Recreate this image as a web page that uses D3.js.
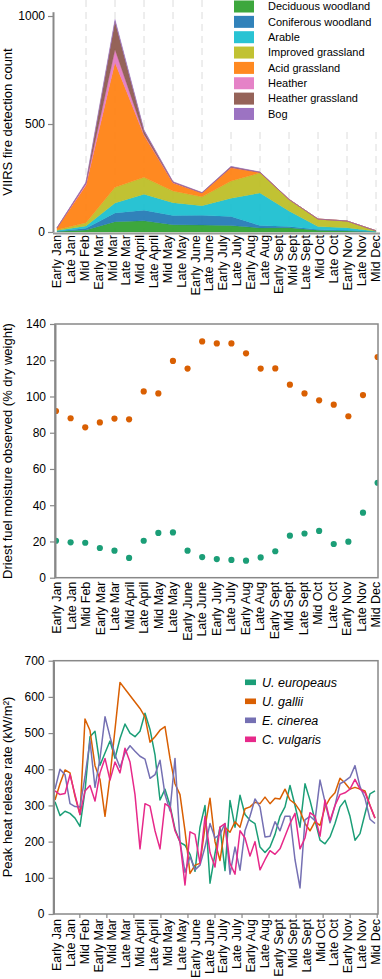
<!DOCTYPE html>
<html>
<head>
<meta charset="utf-8">
<script src="https://cdn.jsdelivr.net/npm/d3@7"></script>
<style>
  body { margin: 0; background: #fff; }
  svg { font-family: "Liberation Sans", Arial, Helvetica, sans-serif; }
</style>
</head>
<body>
<svg id="chart" width="382" height="979"></svg>
<script>
// ---- data ----
const labels24 = ['Early Jan', 'Late Jan', 'Mid Feb', 'Early Mar', 'Mid Mar', 'Late Mar', 'Mid April', 'Late April',
  'Mid May', 'Late May', 'Early June', 'Late June', 'Early July', 'Late July', 'Early Aug', 'Late Aug',
  'Early Sept', 'Mid Sept', 'Late Sept', 'Mid Oct', 'Late Oct', 'Early Nov', 'Late Nov', 'Mid Dec'];
const labels23 = ['Early Jan', 'Late Jan', 'Mid Feb', 'Early Mar', 'Late Mar', 'Mid April', 'Late April',
  'Mid May', 'Late May', 'Early June', 'Late June', 'Early July', 'Late July', 'Early Aug', 'Late Aug',
  'Early Sept', 'Mid Sept', 'Late Sept', 'Mid Oct', 'Late Oct', 'Early Nov', 'Late Nov', 'Mid Dec'];

// VIIRS fire detections, one value per month
const months = ['Jan', 'Feb', 'Mar', 'Apr', 'May', 'Jun', 'Jul', 'Aug', 'Sep', 'Oct', 'Nov', 'Dec'];
const deciduousWoodland = [2, 9, 48, 52, 34, 32, 30, 19, 20, 8, 5, 1];
const coniferousWoodland = [2, 8, 40, 49, 42, 45, 42, 11, 5, 3, 3, 0];
const arable = [3, 11, 46, 74, 60, 45, 84, 151, 72, 14, 12, 2];
const improvedGrassland = [3, 15, 73, 78, 54, 41, 80, 93, 54, 35, 31, 3];
const acidGrassland = [8, 174, 578, 195, 37, 17, 61, 2, 0, 0, 0, 0];
const heather = [1, 8, 60, 5, 2, 1, 2, 0, 0, 0, 0, 0];
const heatherGrassland = [0, 2, 130, 15, 3, 1, 3, 1, 0, 0, 0, 0];
const bog = [1, 5, 10, 5, 1, 1, 2, 1, 0, 0, 0, 0];
const landNames = ['Deciduous woodland', 'Coniferous woodland', 'Arable', 'Improved grassland',
  'Acid grassland', 'Heather', 'Heather grassland', 'Bog'];
const landColors = ['#2ca02c', '#1f77b4', '#17becf', '#bcbd22', '#ff7f0e', '#e377c2', '#8c564b', '#9467bd'];

// driest fuel moisture
const moistureHigh = [92, 88, 83, 85.7, 87.8, 87.4, 102.8, 101.7, 119.6, 115.4, 130.4, 129.3, 129.3,
  123.8, 115.4, 115.5, 106.5, 101.7, 97.9, 95.5, 89.1, 100.8, 121.8];
const moistureLow = [20.4, 19.5, 19.3, 16.4, 14.9, 10.9, 20.4, 24.7, 25, 14.9, 11.4, 10.3, 9.8,
  9.4, 11.2, 14.6, 23.2, 24.4, 25.8, 18.6, 19.9, 35.9, 52.4];

// peak heat release rate
const europeaus = [310, 272, 284, 278, 265, 242, 340, 490, 505, 411, 445, 478, 430, 485, 525, 500, 490, 505, 555, 510,
  440, 315, 345, 300, 235, 198, 190, 165, 118, 240, 300, 85, 167, 240, 120, 314, 240, 328, 275, 259,
  250, 185, 170, 185, 220, 270, 296, 355, 300, 240, 360, 314, 259, 204, 194, 213, 250, 296, 314, 270,
  204, 222, 277, 332, 340];
const gallii = [315, 360, 398, 390, 325, 275, 539, 507, 410, 372, 270, 380, 510, 640, 622, 604, 586, 568, 545, 475,
  490, 508, 518, 430, 360, 330, 230, 112, 135, 140, 240, 320, 200, 148, 240, 226, 255, 240, 291, 296,
  309, 305, 323, 305, 320, 318, 345, 315, 305, 285, 250, 230, 255, 245, 295, 320, 335, 375, 362, 345,
  350, 345, 340, 300, 265];
const cinerea = [345, 400, 385, 305, 297, 296, 380, 478, 350, 430, 545, 490, 440, 405, 445, 465, 450, 436, 428, 375,
  385, 425, 330, 285, 430, 200, 115, 158, 122, 135, 185, 250, 210, 220, 250, 110, 185, 121, 231, 270,
  318, 296, 213, 215, 255, 230, 270, 270, 150, 72, 260, 270, 258, 370, 310, 252, 300, 360, 368, 378,
  410, 352, 320, 262, 250];
const vulgaris = [340, 330, 333, 385, 330, 275, 340, 355, 312, 390, 430, 370, 420, 390, 458, 420, 330, 180, 305, 298,
  230, 180, 305, 295, 230, 200, 80, 227, 220, 140, 270, 170, 130, 240, 250, 140, 110, 230, 210, 160,
  200, 122, 150, 175, 165, 180, 215, 250, 278, 180, 210, 280, 270, 215, 315, 258, 300, 330, 335, 345,
  372, 345, 335, 300, 265];
const speciesNames = ['U. europeaus', 'U. gallii', 'E. cinerea', 'C. vulgaris'];
const speciesColors = ['#1b9e77', '#d95f02', '#7570b3', '#e7298a'];

// ---- drawing ----
const svg = d3.select('#chart');
const axisGrey = '#888';

function styleAxis(g, fontSize) {
  g.select('.domain').attr('stroke', axisGrey).attr('stroke-width', 2);
  g.selectAll('.tick line').attr('stroke', axisGrey).attr('stroke-width', 1.2);
  g.selectAll('.tick text').attr('font-size', fontSize).attr('fill', '#000').attr('font-family', null);
}

function rotatedLabels(scale, y, offset, fontSize) {
  const g = svg.append('g').attr('transform', `translate(0,${y})`)
    .call(d3.axisBottom(scale).tickSize(0).tickPadding(0));
  g.select('.domain').remove();
  g.selectAll('.tick text')
    .attr('font-size', fontSize).attr('font-family', null).attr('fill', '#000')
    .attr('text-anchor', 'end')
    .attr('transform', 'rotate(-90)')
    .attr('x', -offset).attr('y', 0).attr('dy', '0.36em');
  return g;
}

function yTitle(text, cy) {
  svg.append('text')
    .attr('transform', `translate(12,${cy}) rotate(-90)`)
    .attr('text-anchor', 'middle')
    .attr('font-size', 13)
    .text(text);
}

// ===== Panel 1: stacked area =====
const x1 = d3.scaleLinear().domain([0, months.length - 1]).range([57, 376]);
const y1 = d3.scaleLinear().domain([0, 1020]).range([232, 11.7]);
const xl1 = d3.scalePoint().domain(labels24).range([56, 374.5]);

svg.append('g')
  .selectAll('line').data(months.slice(1)).join('line')
  .attr('x1', (d, i) => x1(i + 1)).attr('x2', (d, i) => x1(i + 1))
  .attr('y1', 0).attr('y2', 232)
  .attr('stroke', '#dcdcdc').attr('stroke-width', 1)
  .attr('stroke-dasharray', '7,5');

const layerSeries = [deciduousWoodland, coniferousWoodland, arable, improvedGrassland,
  acidGrassland, heather, heatherGrassland, bog];
const table = months.map((m, i) => {
  const row = { month: i };
  landNames.forEach((n, j) => { row[n] = layerSeries[j][i]; });
  return row;
});
const stacked = d3.stack().keys(landNames)(table);
const area = d3.area()
  .x(d => x1(d.data.month))
  .y0(d => y1(d[0]))
  .y1(d => y1(d[1]));

svg.append('g')
  .selectAll('path').data(stacked).join('path')
  .attr('d', area)
  .attr('fill', (d, i) => landColors[i])
  .attr('fill-opacity', 0.92)
  .attr('stroke', (d, i) => landColors[i])
  .attr('stroke-opacity', 0.5)
  .attr('stroke-width', 0.6);

// base line
svg.append('line')
  .attr('x1', 53).attr('x2', 380).attr('y1', 233.5).attr('y2', 233.5)
  .attr('stroke', '#999').attr('stroke-width', 2);

const ay1 = svg.append('g').attr('transform', 'translate(53,0)')
  .call(d3.axisLeft(y1).tickValues([0, 500, 1000]).tickFormat(d3.format('d'))
    .tickSize(5).tickPadding(3).tickSizeOuter(0));
styleAxis(ay1, 12);

rotatedLabels(xl1, 232, 3, 12.8);
yTitle('VIIRS fire detection count', 122);

// legend 1
const leg1 = svg.append('g');
leg1.append('rect').attr('x', 226).attr('y', 0).attr('width', 156).attr('height', 127).attr('fill', '#fff');
const leg1Rows = leg1.selectAll('g').data(landNames).join('g')
  .attr('transform', (d, i) => `translate(234,${6.5 + i * 15.35})`);
leg1Rows.append('rect').attr('x', 0).attr('y', -6).attr('width', 20).attr('height', 12)
  .attr('fill', (d, i) => landColors[i]).attr('fill-opacity', 0.92);
leg1Rows.append('text').attr('x', 34).attr('dy', '0.35em').attr('font-size', 11).text(d => d);

// ===== Panel 2: moisture dots =====
const box2 = { left: 55, right: 378, top: 324, bottom: 577.7 };
const x2 = d3.scalePoint().domain(labels23).range([56, 377.6]);
const xl2 = d3.scalePoint().domain(labels23).range([56, 375]);
const y2 = d3.scaleLinear().domain([0, 140]).range([box2.bottom, box2.top]);

svg.append('clipPath').attr('id', 'clip2')
  .append('rect').attr('x', box2.left).attr('y', box2.top)
  .attr('width', box2.right - box2.left).attr('height', box2.bottom - box2.top);

const dots = svg.append('g').attr('clip-path', 'url(#clip2)');
dots.selectAll('circle.hi').data(moistureHigh).join('circle').attr('class', 'hi')
  .attr('cx', (d, i) => x2(labels23[i])).attr('cy', d => y2(d)).attr('r', 3.1)
  .attr('fill', '#d95f02');
dots.selectAll('circle.lo').data(moistureLow).join('circle').attr('class', 'lo')
  .attr('cx', (d, i) => x2(labels23[i])).attr('cy', d => y2(d)).attr('r', 3.1)
  .attr('fill', '#1b9e77');

svg.append('rect')
  .attr('x', box2.left).attr('y', box2.top)
  .attr('width', box2.right - box2.left).attr('height', box2.bottom - box2.top)
  .attr('fill', 'none').attr('stroke', axisGrey).attr('stroke-width', 1.5);

const ay2 = svg.append('g').attr('transform', `translate(${box2.left},0)`)
  .call(d3.axisLeft(y2).tickValues(d3.range(0, 141, 20)).tickSize(5).tickPadding(4).tickSizeOuter(0));
styleAxis(ay2, 12);

rotatedLabels(xl2, box2.bottom, 4, 12.5);
yTitle('Driest fuel moisture observed (% dry weight)', 451);

// ===== Panel 3: heat release lines =====
const box3 = { left: 53.5, right: 378, top: 660.7, bottom: 914 };
const x3 = d3.scaleLinear().domain([0, europeaus.length - 1]).range([55, 375]);
const y3 = d3.scaleLinear().domain([0, 700]).range([box3.bottom, box3.top]);
const xl3 = d3.scalePoint().domain(labels24).range([56, 375]);
const xm3 = d3.scaleLinear().domain([0, 12]).range([52.3, 376.7]);

svg.append('clipPath').attr('id', 'clip3')
  .append('rect').attr('x', box3.left).attr('y', box3.top)
  .attr('width', box3.right - box3.left).attr('height', box3.bottom - box3.top);

const line3 = d3.line().x((d, i) => x3(i)).y(d => y3(d));
const lines = svg.append('g').attr('clip-path', 'url(#clip3)');
lines.selectAll('path').data([europeaus, gallii, cinerea, vulgaris]).join('path')
  .attr('d', line3)
  .attr('fill', 'none')
  .attr('stroke', (d, i) => speciesColors[i])
  .attr('stroke-width', 1.5)
  .attr('stroke-linejoin', 'round');

svg.append('rect')
  .attr('x', box3.left).attr('y', box3.top)
  .attr('width', box3.right - box3.left).attr('height', box3.bottom - box3.top)
  .attr('fill', 'none').attr('stroke', axisGrey).attr('stroke-width', 1.5);

const ay3 = svg.append('g').attr('transform', `translate(${box3.left},0)`)
  .call(d3.axisLeft(y3).tickValues(d3.range(0, 701, 100)).tickSize(5).tickPadding(4).tickSizeOuter(0));
styleAxis(ay3, 12);

const ax3 = svg.append('g').attr('transform', `translate(0,${box3.bottom})`)
  .call(d3.axisBottom(xm3).tickValues(d3.range(1, 13)).tickSize(4).tickFormat('').tickSizeOuter(0));
ax3.select('.domain').remove();
ax3.selectAll('.tick line').attr('stroke', axisGrey).attr('stroke-width', 1.2);

rotatedLabels(xl3, box3.bottom, 5, 12.5);
yTitle('Peak heat release rate (kW/m\u00b2)', 787);

// legend 3
const leg3Rows = svg.append('g').selectAll('g').data(speciesNames).join('g')
  .attr('transform', (d, i) => `translate(245,${682.3 + i * 19})`);
leg3Rows.append('rect').attr('x', 0).attr('y', -2.8).attr('width', 11).attr('height', 5.6)
  .attr('fill', (d, i) => speciesColors[i]);
leg3Rows.append('text').attr('x', 17).attr('dy', '0.35em')
  .attr('font-size', 12.5).attr('font-style', 'italic').text(d => d);
</script>
</body>
</html>
